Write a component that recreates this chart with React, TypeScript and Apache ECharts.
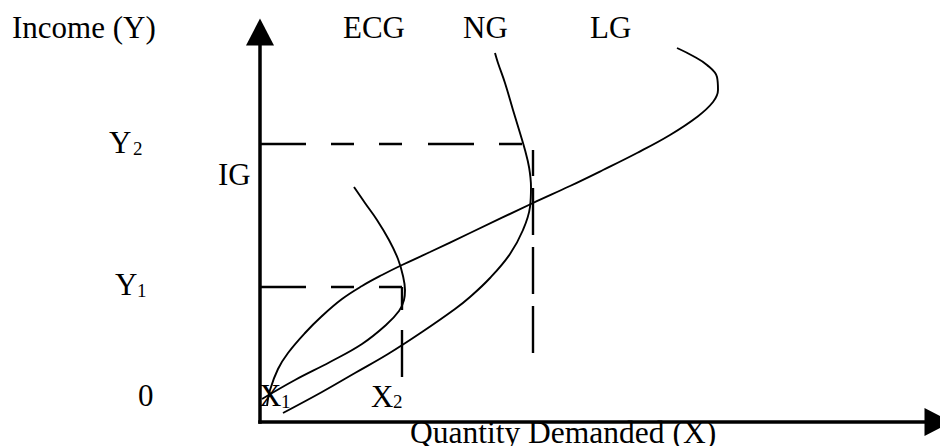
import React, { useEffect, useRef } from "react";
import * as echarts from "echarts";

// Axis extents (quantity demanded on X, income on Y)
const quantityMax = 678;
const incomeMax = 390;

// Reference levels
const incomeY1 = 135;
const incomeY2 = 278;
const quantityX2 = 142;
const quantityXN = 273;
const ngQuantityAtY2 = 262;
const x2GuideBottom = 45;
const xnGuideBottom = 69;
const xnGuideTop = 272;

// Engel curves: [quantity, income]
const ecgCurve = [
  [2, 23], [35, 42], [70, 60], [102, 78], [126, 97], [139, 111], [144, 122],
  [145, 132], [143, 146], [138, 163], [129, 182], [117, 202], [105, 219], [94, 235],
];
const ngCurve = [
  [23, 9], [62, 30], [95, 49], [128, 68], [162, 90], [195, 113], [210, 125],
  [230, 144], [250, 168], [263, 192], [270, 215], [271, 235], [269, 255],
  [265, 272], [260, 289], [253, 312], [245, 339], [238, 359], [235, 369],
];
const lgCurve = [
  [7, 16], [10, 32], [18, 53], [28, 69], [45, 89], [62, 106], [82, 123],
  [102, 136], [122, 147], [142, 157], [170, 170], [210, 189], [273, 219],
  [310, 236], [343, 252], [377, 269], [410, 287], [437, 305],
  [453, 320], [458, 332], [457, 345], [447, 357], [433, 366], [417, 374],
];

// Texts
const yAxisTitle = "Income (Y)";
const xAxisTitle = "Quantity Demanded (X)";
const curveNames = ["ECG", "NG", "LG", "IG"];
const originLabel = "0";
const yTickBase = "Y";
const xTickBase = "X";
const tickSubs = ["1", "2"];

const FONT = '"Liberation Serif", "Times New Roman", Times, serif';

export default function App() {
  const ref = useRef<HTMLDivElement>(null);

  useEffect(() => {
    if (!ref.current) return;
    const chart = echarts.init(ref.current, null, { renderer: "svg" });

    const curve = (name: string, data: number[][]) => ({
      type: "line",
      name,
      data,
      smooth: 0.4,
      symbol: "none",
      showSymbol: false,
      silent: true,
      z: 3,
      lineStyle: { color: "#000", width: 1.9 },
    });
    const guide = (data: number[][], dash: number[]) => ({
      type: "line",
      data,
      symbol: "none",
      showSymbol: false,
      silent: true,
      z: 2,
      lineStyle: { color: "#000", width: 2.4, type: dash, cap: "butt" },
    });

    const txt = (text: string, x: number, y: number, size: number) => ({
      type: "text",
      x,
      y,
      silent: true,
      style: {
        text,
        font: `${size}px ${FONT}`,
        fill: "#000",
        textAlign: "left",
        textVerticalAlign: "middle",
        align: "left",
        verticalAlign: "middle",
      },
    });

    const hDash = [46, 25, 23, 25, 23, 26];

    chart.setOption({
      animation: false,
      backgroundColor: "#fff",
      textStyle: { fontFamily: FONT },
      grid: { left: 260, right: 2, top: 32, bottom: 24 },
      xAxis: {
        type: "value",
        min: 0,
        max: quantityMax,
        axisLine: {
          show: true,
          onZero: false,
          symbol: ["none", "triangle"],
          symbolSize: [28, 27],
          lineStyle: { color: "#000", width: 3.5, cap: "square" },
        },
        axisTick: { show: false },
        axisLabel: { show: false },
        splitLine: { show: false },
      },
      yAxis: {
        type: "value",
        min: 0,
        max: incomeMax,
        axisLine: {
          show: true,
          onZero: false,
          symbol: ["none", "triangle"],
          symbolSize: [28, 27],
          lineStyle: { color: "#000", width: 3.5, cap: "square" },
        },
        axisTick: { show: false },
        axisLabel: { show: false },
        splitLine: { show: false },
      },
      series: [
        guide([[0, incomeY2], [ngQuantityAtY2, incomeY2]], hDash),
        guide([[quantityXN, xnGuideBottom], [quantityXN, xnGuideTop]], [47, 12]),
        guide([[0, incomeY1], [quantityX2, incomeY1]], hDash),
        guide([[quantityX2, x2GuideBottom], [quantityX2, incomeY1]], [47, 20]),
        curve("ECG", ecgCurve),
        curve("NG", ngCurve),
        curve("LG", lgCurve),
      ],
      graphic: [
        txt(yAxisTitle, 12, 27, 31),
        txt(curveNames[0], 343, 27, 31),
        txt(curveNames[1], 463, 27, 31),
        txt(curveNames[2], 590, 27, 31),
        txt(curveNames[3], 218, 174, 31),
        txt(yTickBase, 109, 142, 31),
        txt(tickSubs[1], 133, 148, 19),
        txt(yTickBase, 115, 284, 31),
        txt(tickSubs[0], 137, 290, 19),
        txt(originLabel, 138, 395, 31),
        txt(xTickBase, 259, 395, 31),
        txt(tickSubs[0], 281, 401, 19),
        txt(xTickBase, 371, 396, 31),
        txt(tickSubs[1], 393, 401, 19),
        txt(xAxisTitle, 410, 432, 31.5),
      ],
    });

    return () => chart.dispose();
  }, []);

  return (
    <div
      ref={ref}
      style={{ position: "fixed", left: 0, top: 0, width: 940, height: 446, background: "#fff" }}
    />
  );
}
